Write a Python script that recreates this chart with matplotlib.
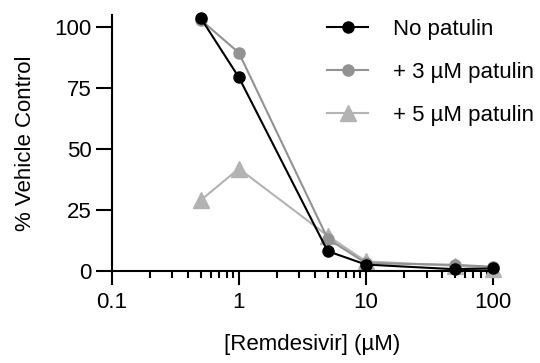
import matplotlib
matplotlib.use("Agg")
import matplotlib.pyplot as plt
from matplotlib.ticker import LogLocator, NullFormatter, FixedLocator

plt.rcParams['font.family'] = ['Liberation Sans', 'DejaVu Sans']

# data
remdesivir = [0.5, 1, 5, 10, 50, 100]
no_patulin = [103.8, 79.4, 8.2, 2.7, 0.8, 1.1]
patulin_3 = [103.0, 89.5, 13.3, 3.3, 2.6, 1.8]
patulin_5 = [29.0, 42.0, 14.5, 4.0, 2.2, 1.0]

fig = plt.figure(figsize=(5.4, 3.63), dpi=100)
ax = fig.add_axes([0.207, 0.253, 0.706, 0.706])

ax.plot(remdesivir, no_patulin, color='black', marker='o', markersize=8, lw=1.5,
        label='No patulin', zorder=4, clip_on=False)
ax.plot(remdesivir, patulin_3, color='#929292', marker='o', markersize=8, lw=1.5,
        label='+ 3 µM patulin', zorder=3, clip_on=False)
ax.plot(remdesivir, patulin_5, color='#b3b3b3', marker='^', markersize=11, lw=1.5,
        label='+ 5 µM patulin', zorder=2, clip_on=False)

ax.set_xscale('log')
ax.set_xlim(0.1, 100)
ax.set_ylim(0, 105)
ax.set_xticks([0.1, 1, 10, 100])
ax.set_xticklabels(['0.1', '1', '10', '100'])
ax.xaxis.set_minor_locator(LogLocator(base=10, subs=range(2, 10)))
ax.xaxis.set_minor_formatter(NullFormatter())
ax.yaxis.set_major_locator(FixedLocator([0, 25, 50, 75, 100]))

for s in ['top', 'right']:
    ax.spines[s].set_visible(False)
for s in ['left', 'bottom']:
    ax.spines[s].set_linewidth(1.5)
ax.tick_params(axis='both', which='major', direction='out', width=1.5, labelsize=16)
ax.tick_params(axis='y', which='major', length=11.5, pad=3)
ax.tick_params(axis='x', which='major', length=10, pad=5)
ax.tick_params(axis='x', which='minor', direction='out', length=5, width=1.5)

ax.set_xlabel('[Remdesivir] (µM)', fontsize=16)
ax.xaxis.set_label_coords(0.525, -0.245)
ax.set_ylabel('% Vehicle Control', fontsize=16)
ax.yaxis.set_label_coords(-0.2, 0.5)

ax.legend(loc='upper left', bbox_to_anchor=(0.606, 0.949), bbox_transform=fig.transFigure,
          frameon=False, fontsize=16, handlelength=1.85, labelspacing=1.0,
          handletextpad=1.1, borderaxespad=0, borderpad=0)

fig.savefig('out.png', dpi=100)
